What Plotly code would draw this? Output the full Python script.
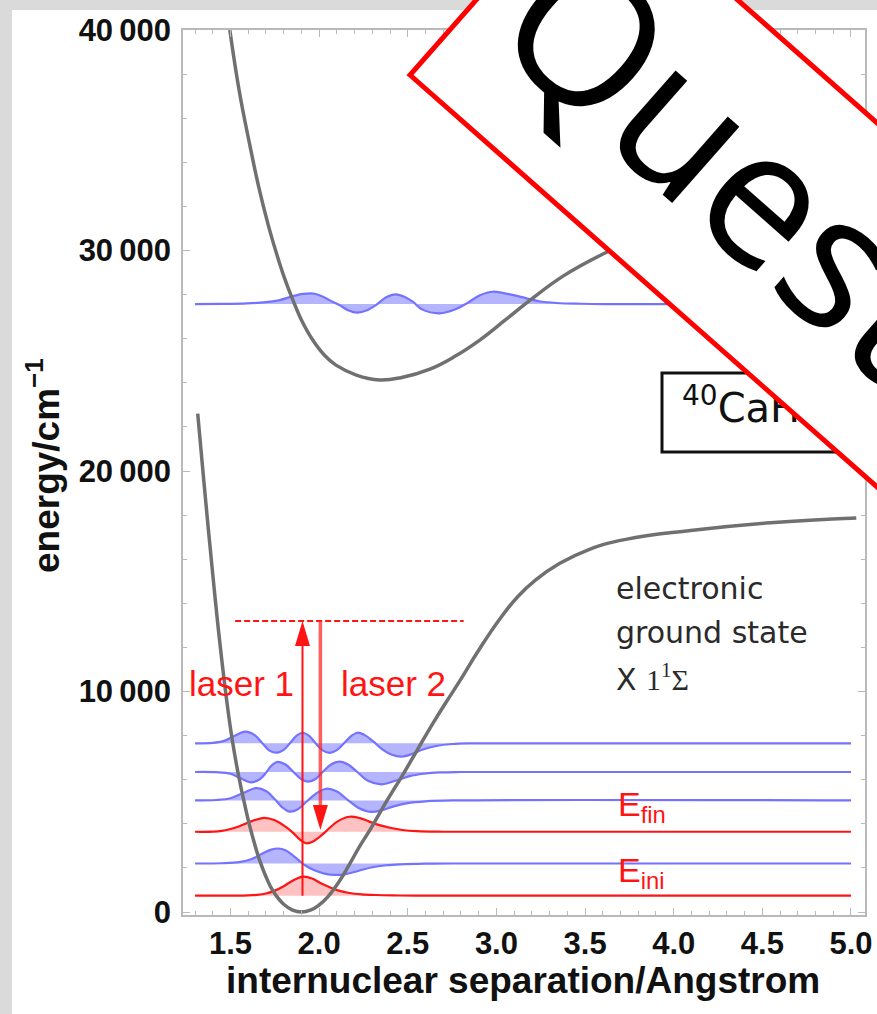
import plotly.graph_objects as go

# ---------------- data ----------------
# ground-state potential X 1Σ  (internuclear separation / Å, energy / cm^-1)
ground_r = [1.315, 1.35, 1.40, 1.44, 1.48, 1.51, 1.545, 1.578, 1.61, 1.664, 1.70, 1.74, 1.80, 1.85,
            1.90, 1.95, 2.00, 2.05, 2.11, 2.17, 2.23, 2.285, 2.375, 2.47, 2.55, 2.645, 2.715, 2.787,
            2.898, 3.02, 3.12, 3.22, 3.355, 3.525, 3.73, 4.095, 4.545, 5.03]
ground_E = [22600, 19500, 15300, 12200, 9500, 7800, 6200, 4950, 3850, 2350, 1600, 950, 350, 90,
            0, 80, 320, 700, 1350, 2150, 3000, 3700, 4950, 6200, 7300, 8600, 9500, 10400,
            11850, 13300, 14300, 15050, 15800, 16450, 16900, 17300, 17650, 17870]

# excited-state potential
excited_r = [1.496, 1.55, 1.611, 1.66, 1.713, 1.76, 1.80, 1.852, 1.90, 1.963, 2.03, 2.095, 2.21,
             2.34, 2.46, 2.625, 2.766, 2.908, 3.05, 3.19, 3.378, 3.603, 3.83, 4.14, 4.55, 5.05]
excited_E = [40000, 37200, 34700, 32850, 31150, 29850, 28850, 27750, 26850, 25950, 25250, 24800,
             24350, 24130, 24230, 24620, 25200, 25950, 26850, 27750, 28850, 29850, 30700, 31500,
             32200, 32700]

# vibrational levels (energy of each level, cm^-1) and their colours
level_names = ["v0", "v1", "v2", "v3", "v4", "v5"]
level_E = [740, 2200, 3640, 5060, 6350, 7650]
level_is_red = [True, False, True, False, False, False]

# wavefunction shapes: separation and offset from the level energy (cm^-1)
wf_r = {
    "v0": [1.30, 1.50, 1.60, 1.65, 1.70, 1.75, 1.80, 1.85, 1.91, 1.96, 2.01, 2.06, 2.11, 2.17,
           2.24, 2.32, 2.42, 2.55, 5.0],
    "v1": [1.30, 1.45, 1.55, 1.62, 1.68, 1.73, 1.77, 1.81, 1.85, 1.89, 1.92, 1.97, 2.03, 2.09,
           2.15, 2.22, 2.30, 2.38, 2.46, 2.60, 2.75, 5.0],
    "v2": [1.30, 1.45, 1.55, 1.62, 1.69, 1.75, 1.81, 1.85, 1.89, 1.925, 1.96, 2.00, 2.04, 2.10,
           2.17, 2.23, 2.28, 2.34, 2.40, 2.47, 2.55, 2.70, 5.0],
    "v3": [1.30, 1.42, 1.50, 1.57, 1.645, 1.70, 1.75, 1.79, 1.835, 1.88, 1.93, 1.98, 2.04, 2.10,
           2.16, 2.22, 2.29, 2.36, 2.42, 2.50, 2.60, 2.75, 5.0],
    "v4": [1.30, 1.42, 1.50, 1.56, 1.615, 1.665, 1.70, 1.73, 1.765, 1.81, 1.855, 1.90, 1.94,
           1.98, 2.02, 2.065, 2.115, 2.165, 2.215, 2.275, 2.35, 2.43, 2.51, 2.59, 2.68, 2.80, 5.0],
    "v5": [1.30, 1.40, 1.46, 1.52, 1.583, 1.64, 1.68, 1.72, 1.764, 1.80, 1.835, 1.87, 1.907,
           1.945, 1.98, 2.02, 2.06, 2.10, 2.14, 2.18, 2.217, 2.26, 2.31, 2.36, 2.41, 2.465, 2.525,
           2.585, 2.66, 2.75, 2.86, 5.0],
}
wf_off = {
    "v0": [0, 3, 15, 40, 100, 230, 430, 680, 860, 780, 560, 380, 230, 120, 60, 30, 12, 0, 0],
    "v1": [0, 10, 60, 200, 450, 630, 680, 600, 380, 110, -80, -300, -460, -520, -480, -340,
           -170, -80, -40, -10, 0, 0],
    "v2": [0, 40, 250, 480, 630, 520, 230, -30, -350, -520, -470, -250, 30, 450, 680, 620, 470,
           300, 180, 80, 25, 0, 0],
    "v3": [0, 20, 100, 330, 560, 430, 50, -300, -510, -400, -50, 300, 530, 400, 30, -330, -520,
           -430, -270, -120, -40, 0, 0],
    "v4": [0, -10, -80, -300, -470, -330, -40, 280, 460, 340, 0, -330, -440, -320, 0, 330, 470,
           330, 0, -400, -560, -400, -190, -80, -20, 0, 0],
    "v5": [0, 20, 100, 330, 530, 350, 0, -330, -420, -300, 0, 330, 480, 330, 0, -320, -430,
           -310, 0, 330, 480, 360, 50, -300, -520, -600, -480, -280, -120, -30, 0, 0],
}

# excited-state vibrational level
exc_level_E = 27570
exc_wf_r = [1.30, 1.45, 1.593, 1.70, 1.778, 1.852, 1.91, 1.965, 2.012, 2.058, 2.114, 2.163, 2.217,
            2.27, 2.32, 2.376, 2.433, 2.488, 2.53, 2.58, 2.68, 2.765, 2.836, 2.907, 2.98, 3.07,
            3.17, 3.24, 3.34, 3.47, 3.62, 5.0]
exc_wf_off = [0, 5, 30, 90, 180, 360, 460, 480, 370, 180, -45, -280, -390, -280, -45, 300, 440,
              300, 100, -240, -420, -250, 50, 400, 560, 450, 260, 130, 50, 15, 0, 0]

# laser transitions
laser_r = [1.906, 2.007]          # laser 1 (up), laser 2 (down)
virtual_E = 13200                 # dashed virtual level
virtual_r = [1.526, 2.815]
laser1_start_E = 740
laser2_end_E = 3720

x_ticks = [1.5, 2.0, 2.5, 3.0, 3.5, 4.0, 4.5, 5.0]
y_ticks = [0, 10000, 20000, 30000, 40000]
y_ticktext = ["0", "10\u2009000", "20\u2009000", "30\u2009000", "40\u2009000"]

# ---------------- layout geometry ----------------
W, H = 877, 1014
L, R, T, B = 183, 865, 30, 915
X_RANGE = [1.232, 5.079]
Y_RANGE = [-136, 40000]
DX = (X_RANGE[1] - X_RANGE[0]) / (R - L)      # data units per pixel
DY = (Y_RANGE[1] - Y_RANGE[0]) / (B - T)


def px(x):
    return (x - L) / (R - L)


def py(y):
    return (B - y) / (B - T)


BLUE_LINE = "rgb(115,115,255)"
BLUE_FILL = "rgba(120,120,255,0.55)"
RED_LINE = "rgb(255,20,20)"
RED_FILL = "rgba(255,110,110,0.42)"
GRAY = "rgb(112,112,112)"

fig = go.Figure()


def add_wave(r, off, E, red):
    fig.add_trace(go.Scatter(x=[r[0], r[-1]], y=[E, E], mode="lines",
                             line=dict(width=0, color="rgba(0,0,0,0)"),
                             hoverinfo="skip", showlegend=False))
    fig.add_trace(go.Scatter(x=r, y=[E + o for o in off], mode="lines",
                             line=dict(color=RED_LINE if red else BLUE_LINE, width=2.2,
                                       shape="spline", smoothing=1.0),
                             fill="tonexty", fillcolor=RED_FILL if red else BLUE_FILL,
                             hoverinfo="skip", showlegend=False))


for name, E, red in zip(level_names, level_E, level_is_red):
    add_wave(wf_r[name], wf_off[name], E, red)
add_wave(exc_wf_r, exc_wf_off, exc_level_E, False)

# potentials
fig.add_trace(go.Scatter(x=ground_r, y=ground_E, mode="lines",
                         line=dict(color=GRAY, width=3.5, shape="spline", smoothing=1.3),
                         showlegend=False))
fig.add_trace(go.Scatter(x=excited_r, y=excited_E, mode="lines",
                         line=dict(color=GRAY, width=3.5, shape="spline", smoothing=1.2),
                         showlegend=False))

# lasers
fig.add_trace(go.Scatter(x=virtual_r, y=[virtual_E, virtual_E], mode="lines",
                         line=dict(color=RED_LINE, width=2, dash="6px,3px"), showlegend=False))
fig.add_trace(go.Scatter(x=[laser_r[0], laser_r[0]], y=[laser1_start_E, virtual_E - 600],
                         mode="lines", line=dict(color=RED_LINE, width=2), showlegend=False))
fig.add_trace(go.Scatter(x=[laser_r[1], laser_r[1]], y=[virtual_E, laser2_end_E + 600],
                         mode="lines", line=dict(color="rgba(255,40,40,0.75)", width=3.5),
                         showlegend=False))

# "40CaH+" label as a trace so that the watermark covers it
fig.add_trace(go.Scatter(x=[X_RANGE[0] + (682 - L) * DX], y=[Y_RANGE[1] - (412 - T) * DY],
                         mode="text", text=["<sup>40</sup>CaH<sup>+</sup>"],
                         textposition="middle right",
                         textfont=dict(family="DejaVu Sans", size=40, color="#111"),
                         showlegend=False, hoverinfo="skip"))

shapes = []


def arrow_head(xc, tip, up):
    hl = 25 * DY
    hw = 7.5 * DX
    base = tip - hl if up else tip + hl
    return dict(type="path", xref="x", yref="y",
                path=f"M {xc - hw} {base} L {xc + hw} {base} L {xc} {tip} Z",
                fillcolor=RED_LINE, line=dict(width=0), layer="above")


shapes.append(arrow_head(laser_r[0], virtual_E, True))
shapes.append(arrow_head(laser_r[1], laser2_end_E, False))

# white panel over the grey page
shapes.append(dict(type="rect", xref="paper", yref="paper", x0=px(12), x1=px(900),
                   y0=py(1100), y1=py(10), fillcolor="white", line=dict(width=0),
                   layer="below"))

# 40CaH box
shapes.append(dict(type="rect", xref="paper", yref="paper", x0=px(662), x1=px(860),
                   y0=py(452), y1=py(373), line=dict(color="#111", width=3), layer="above"))

# watermark band
ax_, ay_ = 410, 75
ux, uy = 0.75, 0.6615
nx, ny = 0.6615, -0.75
Lb, Wb = 1000, 273
pts = [(ax_, ay_), (ax_ + ux * Lb, ay_ + uy * Lb),
       (ax_ + ux * Lb + nx * Wb, ay_ + uy * Lb + ny * Wb), (ax_ + nx * Wb, ay_ + ny * Wb)]
path = "M " + " L ".join(f"{px(a)} {py(b)}" for a, b in pts) + " Z"
shapes.append(dict(type="path", xref="paper", yref="paper", path=path,
                   fillcolor="white", line=dict(color="rgb(255,0,0)", width=5), layer="above"))

ann = []


def text(t, x, y, size, color, family, xanchor="center", angle=0, weight="normal"):
    ann.append(dict(text=t, x=px(x), y=py(y), xref="paper", yref="paper", showarrow=False,
                    xanchor=xanchor, yanchor="middle", textangle=angle,
                    font=dict(size=size, color=color, family=family, weight=weight)))


text("laser 1", 241, 683, 35, RED_LINE, "Liberation Sans")
text("laser 2", 393, 683, 35, RED_LINE, "Liberation Sans")
text("electronic", 614, 588, 30, "#2a2a2a", "DejaVu Sans", xanchor="left")
text("ground state", 614, 632, 30, "#2a2a2a", "DejaVu Sans", xanchor="left")
text('X <span style="font-family:Liberation Serif">1<sup>1</sup>\u03a3</span>', 614, 677, 30,
     "#2a2a2a", "DejaVu Sans", xanchor="left")
text("E<sub>fin</sub>", 616, 806, 34, RED_LINE, "Liberation Sans", xanchor="left")
text("E<sub>ini</sub>", 616, 872, 34, RED_LINE, "Liberation Sans", xanchor="left")
text("energy/cm<sup>\u22121</sup>", 44, 466, 37, "#111", "Liberation Sans", angle=-90,
     weight="bold")
text("internuclear separation/Angstrom", 523, 980, 37, "#111", "Liberation Sans",
     weight="bold")
text("Quest", 733, 158, 190, "black", "Open Sans", angle=41.4)

FRAME = "rgb(185,185,185)"
fig.update_layout(
    width=W, height=H,
    margin=dict(l=L, r=W - R, t=T, b=H - B, autoexpand=False),
    paper_bgcolor="rgb(218,218,218)", plot_bgcolor="white",
    shapes=shapes, annotations=ann, showlegend=False,
    xaxis=dict(range=X_RANGE, tickvals=x_ticks, ticktext=[f"{v:.1f}" for v in x_ticks],
               ticks="inside", ticklen=7, tickcolor=FRAME, tickwidth=1,
               minor=dict(dtick=0.1, tick0=1.5, ticks="inside", ticklen=4, tickcolor=FRAME),
               showline=True, linecolor=FRAME, linewidth=1.5, mirror="ticks",
               showgrid=False, zeroline=False, ticklabeloverflow="allow", automargin=False,
               tickfont=dict(family="Liberation Sans", size=31, color="#111", weight="bold")),
    yaxis=dict(range=Y_RANGE, tickvals=y_ticks, ticktext=y_ticktext,
               ticks="inside", ticklen=7, tickcolor=FRAME, tickwidth=1,
               minor=dict(dtick=2000, tick0=0, ticks="inside", ticklen=4, tickcolor=FRAME),
               showline=True, linecolor=FRAME, linewidth=1.5, mirror="ticks",
               showgrid=False, zeroline=False, ticklabelstandoff=4, ticklabeloverflow="allow",
               automargin=False,
               tickfont=dict(family="Liberation Sans", size=31, color="#111", weight="bold")),
)

fig.write_html("out.html")
